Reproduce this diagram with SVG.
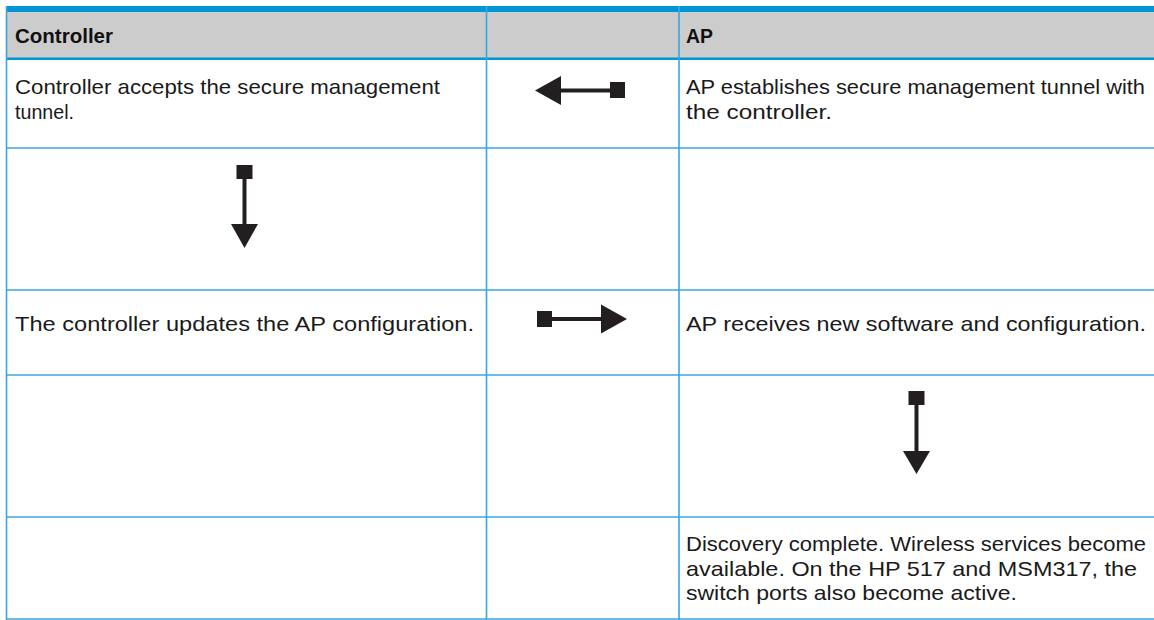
<svg xmlns="http://www.w3.org/2000/svg" width="1154" height="620" viewBox="0 0 1154 620">
<style>
.t{font-family:"Liberation Sans",Arial,sans-serif;font-size:21px;fill:#1a1a1a}
.h{font-family:"Liberation Sans",Arial,sans-serif;font-size:20.5px;font-weight:bold;fill:#111}
.g{stroke:#3aa6de;stroke-width:1.6;fill:none}
.ar{fill:#231f20}
</style>
<rect x="0" y="0" width="1154" height="620" fill="#fff"/>
<g id="header">
<rect x="6" y="12" width="1148" height="46" fill="#cccccc"/>
<rect x="6" y="6" width="1148" height="6" fill="#0096d6"/>
<rect x="6" y="57.5" width="1148" height="2.5" fill="#0096d6"/>
<text class="h" x="15" y="43" textLength="98" lengthAdjust="spacingAndGlyphs">Controller</text>
<text class="h" x="686" y="43" textLength="27" lengthAdjust="spacingAndGlyphs">AP</text>
</g>
<g id="grid">
<line class="g" x1="6.5" y1="6" x2="6.5" y2="620"/>
<line class="g" x1="486.5" y1="6" x2="486.5" y2="620"/>
<line class="g" x1="679" y1="6" x2="679" y2="620"/>
<line class="g" x1="6" y1="148" x2="1154" y2="148"/>
<line class="g" x1="6" y1="290" x2="1154" y2="290"/>
<line class="g" x1="6" y1="375" x2="1154" y2="375"/>
<line class="g" x1="6" y1="517" x2="1154" y2="517"/>
<line class="g" x1="6" y1="619" x2="1154" y2="619"/>
</g>
<g id="row1-controller">
<text class="t" x="15" y="94" textLength="425" lengthAdjust="spacingAndGlyphs">Controller accepts the secure management</text>
<text class="t" x="15" y="118.5" textLength="59" lengthAdjust="spacingAndGlyphs">tunnel.</text>
</g>
<g id="row1-ap">
<text class="t" x="686" y="94" textLength="459" lengthAdjust="spacingAndGlyphs">AP establishes secure management tunnel with</text>
<text class="t" x="686" y="118.5" textLength="146" lengthAdjust="spacingAndGlyphs">the controller.</text>
</g>
<g id="row3-controller">
<text class="t" x="15" y="331" textLength="459" lengthAdjust="spacingAndGlyphs">The controller updates the AP configuration.</text>
</g>
<g id="row3-ap">
<text class="t" x="686" y="331" textLength="460" lengthAdjust="spacingAndGlyphs">AP receives new software and configuration.</text>
</g>
<g id="row5-ap">
<text class="t" x="686" y="551" textLength="460" lengthAdjust="spacingAndGlyphs">Discovery complete. Wireless services become</text>
<text class="t" x="686" y="575.5" textLength="451" lengthAdjust="spacingAndGlyphs">available. On the HP 517 and MSM317, the</text>
<text class="t" x="686" y="600" textLength="331" lengthAdjust="spacingAndGlyphs">switch ports also become active.</text>
</g>
<g id="connectors">
<g id="arrow-left">
<polygon class="ar" points="535,90.5 561,76 561,105"/>
<rect class="ar" x="559" y="88.5" width="52" height="4"/>
<rect class="ar" x="610" y="82" width="15" height="16"/>
</g>
<g id="arrow-down-left">
<rect class="ar" x="236.5" y="165" width="16" height="14"/>
<rect class="ar" x="242.5" y="178" width="4" height="48"/>
<polygon class="ar" points="231,224 258,224 244.5,248"/>
</g>
<g id="arrow-right">
<rect class="ar" x="537" y="311" width="15" height="16"/>
<rect class="ar" x="551" y="317" width="51" height="4"/>
<polygon class="ar" points="627,319 601,304.5 601,333.5"/>
</g>
<g id="arrow-down-right">
<rect class="ar" x="908.5" y="391" width="16" height="14"/>
<rect class="ar" x="914.5" y="404" width="4" height="49"/>
<polygon class="ar" points="903,451 930,451 916.5,474"/>
</g>
</g>
</svg>
